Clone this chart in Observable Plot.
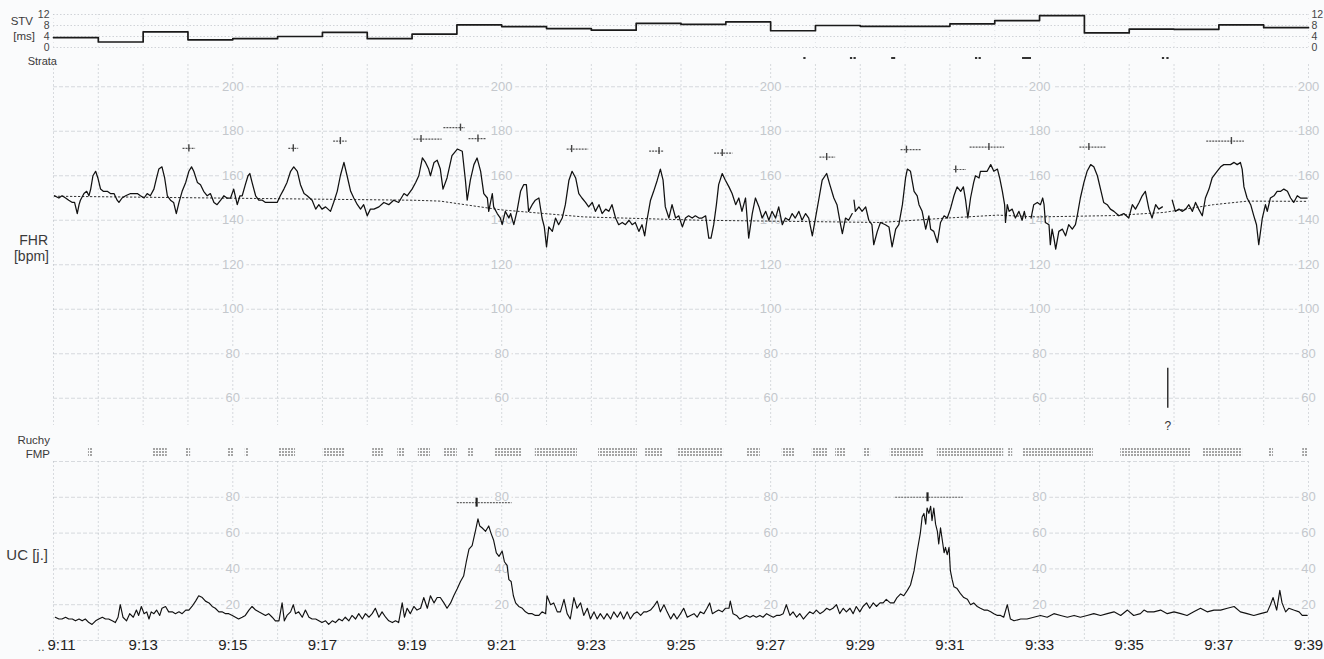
<!DOCTYPE html>
<html><head><meta charset="utf-8">
<script src="https://cdn.jsdelivr.net/npm/d3@7"></script>
<script src="https://cdn.jsdelivr.net/npm/@observablehq/plot@0.6"></script>
<style>
body{margin:0;background:#fafbfc;font-family:"Liberation Sans",Arial,sans-serif;}
#wrap{position:relative;width:1324px;height:659px;overflow:hidden;background:#fafbfc;}
.lbl{position:absolute;color:#3a3a3a;white-space:nowrap;text-align:right;line-height:1;}
</style></head><body><div id="wrap"></div>
<script>
// ---------- DATA ----------
const stvMinute = [0,1,2,3,4,5,6,7,8,9,10,11,12,13,14,15,16,17,18,19,20,21,22,23,24,25,26,27];
const stvValue  = [3.6,2.0,5.7,2.8,3.2,4.0,5.5,3.2,4.9,8.2,7.6,6.9,6.3,8.8,8.4,9.3,6.1,8.0,7.7,7.7,8.6,9.8,11.6,5.3,6.7,6.6,8.2,7.2];
const stvTicks = [0,4,8,12];

const strataStart = [16.74,17.78,17.86,18.70,20.57,20.65,21.62,24.74,24.84];
const strataEnd   = [16.79,17.83,17.91,18.79,20.62,20.70,21.82,24.79,24.89];

const fhrTicks = [60,80,100,120,140,160,180,200];
const ucTicks = [20,40,60,80];
const labelMinutes = [4,10,16,22,28];
const xTickMinutes = [0,2,4,6,8,10,12,14,16,18,20,22,24,26,28];
const xTickLabels = ["9:11","9:13","9:15","9:17","9:19","9:21","9:23","9:25","9:27","9:29","9:31","9:33","9:35","9:37","9:39"];

const fhrTrace = [[0.02,151],[0.12,150],[0.19,151],[0.27,150],[0.34,149],[0.42,148],[0.47,148],[0.53,143],[0.57,147],[0.60,149],[0.68,152],[0.74,153],[0.79,151],[0.83,154],[0.88,160],[0.94,162],[0.99,159],[1.05,154],[1.11,153],[1.20,153],[1.27,152],[1.35,152],[1.42,149],[1.46,148],[1.53,150],[1.61,151],[1.72,152],[1.79,152],[1.87,152],[1.94,151],[2.02,150],[2.09,152],[2.16,151],[2.24,154],[2.30,159],[2.35,163],[2.42,164],[2.48,159],[2.54,151],[2.61,149],[2.68,148],[2.74,143],[2.80,148],[2.87,153],[2.95,157],[3.02,162],[3.08,164],[3.13,162],[3.21,157],[3.28,156],[3.35,153],[3.43,151],[3.50,152],[3.58,148],[3.65,147],[3.73,149],[3.80,151],[3.87,150],[3.95,150],[4.02,154],[4.10,147],[4.16,151],[4.21,151],[4.28,156],[4.34,160],[4.38,161],[4.43,157],[4.51,151],[4.58,149],[4.66,149],[4.73,148],[4.80,148],[4.88,148],[4.99,148],[5.06,151],[5.14,154],[5.21,157],[5.29,162],[5.36,164],[5.44,162],[5.51,156],[5.59,152],[5.66,151],[5.77,149],[5.85,145],[5.92,147],[5.99,145],[6.07,146],[6.18,144],[6.25,148],[6.33,153],[6.40,160],[6.48,166],[6.55,160],[6.63,153],[6.70,150],[6.78,147],[6.85,145],[6.92,147],[7.00,142],[7.07,145],[7.15,145],[7.26,146],[7.37,148],[7.48,147],[7.59,149],[7.70,148],[7.82,152],[7.89,151],[8.00,154],[8.08,157],[8.15,160],[8.23,168],[8.30,166],[8.37,163],[8.41,160],[8.49,166],[8.56,167],[8.63,163],
[8.69,154],[8.78,159],[8.89,169],[9.01,172],[9.12,171],[9.19,158],[9.23,149],[9.30,158],[9.38,165],[9.45,168],[9.53,162],[9.60,152],[9.68,150],[9.71,144],[9.75,148],[9.79,152],[9.82,146],[9.90,143],[9.97,141],[10.01,138],[10.08,144],[10.16,141],[10.20,143],[10.27,138],[10.34,144],[10.42,153],[10.49,156],[10.55,156],[10.60,144],[10.68,147],[10.75,149],[10.83,150],[10.90,141],[10.95,137],[11.00,128],[11.05,137],[11.13,135],[11.20,141],[11.27,138],[11.35,141],[11.42,147],[11.50,158],[11.57,162],[11.65,159],[11.72,152],[11.79,150],[11.87,148],[11.94,146],[12.02,148],[12.09,144],[12.17,147],[12.24,143],[12.32,145],[12.39,144],[12.46,147],[12.54,141],[12.61,138],[12.69,139],[12.76,138],[12.84,140],[12.91,138],[12.98,139],[13.06,135],[13.13,138],[13.19,133],[13.24,140],[13.32,149],[13.39,153],[13.47,158],[13.54,163],[13.60,158],[13.65,146],[13.73,141],[13.80,147],[13.88,141],[13.95,142],[14.03,137],[14.10,141],[14.17,142],[14.25,141],[14.32,142],[14.40,141],[14.47,141],[14.55,142],[14.62,132],[14.67,132],[14.73,138],[14.79,147],[14.84,156],[14.92,161],[14.99,158],[15.07,155],[15.14,152],[15.22,147],[15.29,150],[15.36,144],[15.44,150],[15.51,132],[15.59,143],[15.66,150],[15.74,146],[15.81,141],[15.89,144],[15.96,140],[16.03,144],[16.11,141],[16.18,146],[16.26,138],[16.33,141],[16.41,140],[16.48,143],[16.55,141],[16.63,144],[16.70,140],[16.78,143],[16.85,141],[16.93,133],[17.00,141],[17.08,150],[17.15,158],[17.25,161],[17.32,156],[17.41,150],[17.48,147],[17.56,138],[17.60,134],[17.67,141],[17.74,140],[17.82,143],[17.84,null],[17.86,149],[17.89,144],[17.97,146],[18.04,144],[18.12,146],[18.19,140],[18.26,138],[18.30,129],[18.38,135],
[18.45,139],[18.56,138],[18.64,137],[18.71,128],[18.79,136],[18.86,138],[18.94,147],[19.01,159],[19.05,163],[19.12,162],[19.20,153],[19.27,151],[19.31,147],[19.38,144],[19.46,136],[19.53,142],[19.57,136],[19.64,135],[19.72,130],[19.79,139],[19.87,142],[19.94,141],[20.01,145],[20.09,151],[20.16,155],[20.24,153],[20.30,155],[20.35,149],[20.40,141],[20.46,150],[20.53,157],[20.57,160],[20.65,159],[20.68,162],[20.76,162],[20.83,162],[20.91,165],[20.98,162],[21.06,163],[21.11,159],[21.17,153],[21.22,147],[21.24,139],[21.28,147],[21.32,144],[21.39,145],[21.46,141],[21.54,144],[21.61,140],[21.66,144],[21.69,141],[21.75,null],[21.81,141],[21.87,147],[21.95,148],[22.02,147],[22.07,150],[22.10,147],[22.13,139],[22.21,138],[22.24,129],[22.28,136],[22.32,132],[22.36,127],[22.43,135],[22.51,136],[22.58,133],[22.65,138],[22.73,136],[22.80,138],[22.84,142],[22.91,150],[22.99,157],[23.06,162],[23.14,165],[23.21,164],[23.29,160],[23.36,154],[23.43,148],[23.51,147],[23.58,145],[23.66,144],[23.77,142],[23.88,143],[23.99,141],[24.07,147],[24.14,145],[24.22,148],[24.29,151],[24.36,153],[24.44,145],[24.51,141],[24.59,147],[24.66,145],[24.74,146],[24.85,null],[24.96,149],[25.03,144],[25.11,145],[25.18,144],[25.26,145],[25.33,147],[25.41,144],[25.48,148],[25.55,145],[25.63,142],[25.70,150],[25.78,154],[25.85,159],[25.96,162],[26.04,164],[26.11,165],[26.19,165],[26.26,165],[26.34,166],[26.41,165],[26.48,166],[26.52,163],[26.56,155],[26.63,150],[26.71,147],[26.78,142],[26.84,138],[26.89,129],[26.97,141],[27.04,147],[27.08,144],[27.15,150],[27.23,151],[27.30,153],[27.38,153],[27.45,154],[27.53,153],[27.60,150],[27.67,148],[27.75,151],[27.82,150],[27.90,150],[27.97,150]];

const fhrBaseline = [[0.02,150.8],[8.03,149],[8.63,148.6],[9.97,144.7],[11.83,141.5],[14.44,140],[18.45,139],[19.95,141],[21.06,142.3],[21.95,141.5],[23.65,142.1],[24.77,143.5],[25.88,147],[26.64,148.6],[27.98,148.5]];

const accelT     = [3.02,5.35,6.40,8.20,9.08,9.47,11.56,13.51,14.92,17.25,19.03,20.13,20.87,23.10,26.28];
const accelStart = [2.89,5.25,6.25,8.04,8.71,9.27,11.46,13.30,14.75,17.10,18.91,20.09,20.45,22.90,25.73];
const accelEnd   = [3.17,5.47,6.55,8.67,9.19,9.66,11.94,13.63,15.16,17.45,19.36,20.37,21.22,23.49,26.57];
const accelBpm   = [172.3,172.3,175.6,176.5,181.6,176.7,172.0,171.1,170.2,168.4,171.7,162.8,172.9,172.9,175.6];

const eventT = [24.86];
const eventLow = [55.5];
const eventHigh = [73.5];
const eventLabel = ["?"];

const fmpStart = [0.78,2.23,2.95,3.90,4.28,5.02,6.02,7.12,7.68,8.14,8.70,9.26,9.86,10.75,12.16,13.21,13.92,15.48,16.26,16.93,17.45,18.07,18.67,19.72,21.31,21.62,23.81,25.64,27.11,27.87];
const fmpEnd   = [0.87,2.54,3.06,4.02,4.35,5.40,6.51,7.36,7.85,8.41,9.01,9.37,10.46,11.69,13.03,13.59,14.95,15.77,16.55,17.27,17.67,18.23,19.41,21.20,21.40,23.20,25.37,26.53,27.22,28.00];

const ucTrace = [[0.04,13],[0.12,12],[0.19,12],[0.27,13],[0.34,12],[0.42,12],[0.49,11],[0.57,12],[0.64,11],[0.71,12],[0.79,10],[0.86,9],[0.94,11],[1.01,12],[1.09,13],[1.16,12],[1.23,12],[1.31,11],[1.38,10],[1.44,13],[1.49,20],[1.55,13],[1.63,11],[1.70,15],[1.78,13],[1.85,17],[1.90,14],[1.96,19],[2.02,15],[2.08,16],[2.13,12],[2.18,16],[2.24,15],[2.30,17],[2.37,14],[2.42,18],[2.50,19],[2.57,16],[2.65,16],[2.72,15],[2.80,16],[2.87,15],[2.95,17],[3.02,17],[3.09,19],[3.17,22],[3.24,25],[3.32,24],[3.39,22],[3.47,21],[3.54,19],[3.61,18],[3.69,16],[3.76,16],[3.84,15],[3.91,15],[3.99,14],[4.06,13],[4.13,12],[4.21,13],[4.28,14],[4.36,17],[4.43,19],[4.51,17],[4.58,16],[4.66,15],[4.73,14],[4.80,15],[4.88,13],[4.95,11],[5.03,11],[5.10,21],[5.15,11],[5.21,14],[5.29,16],[5.35,20],[5.40,15],[5.47,16],[5.55,13],[5.62,17],[5.70,13],[5.77,12],[5.85,12],[5.92,11],[5.99,10],[6.07,11],[6.14,9],[6.22,11],[6.29,10],[6.37,12],[6.44,11],[6.51,13],[6.59,11],[6.66,14],[6.74,12],[6.81,15],[6.89,12],[6.96,15],[7.04,13],[7.11,15],[7.18,18],[7.26,13],[7.33,16],[7.41,13],[7.48,11],[7.56,10],[7.63,11],[7.70,10],[7.78,21],[7.83,13],[7.89,18],[7.96,15],[8.04,19],[8.11,17],[8.19,18],[8.26,24],[8.34,18],[8.41,25],[8.49,21],[8.56,24],
[8.63,24],[8.71,21],[8.78,18],[8.86,21],[8.93,25],[9.01,29],[9.08,33],[9.15,36],[9.21,44],[9.27,51],[9.34,53],[9.42,62],[9.47,68],[9.51,64],[9.56,63],[9.64,61],[9.71,64],[9.76,60],[9.82,56],[9.88,49],[9.94,47],[10.01,50],[10.06,44],[10.12,42],[10.16,34],[10.21,33],[10.26,25],[10.31,21],[10.38,19],[10.46,18],[10.53,16],[10.60,15],[10.68,15],[10.75,14],[10.83,14],[10.90,16],[10.98,15],[11.01,25],[11.09,20],[11.16,21],[11.24,16],[11.31,16],[11.39,23],[11.46,15],[11.53,12],[11.61,24],[11.68,18],[11.76,21],[11.83,14],[11.91,18],[11.98,12],[12.06,16],[12.13,12],[12.20,15],[12.28,12],[12.35,15],[12.43,12],[12.50,16],[12.58,13],[12.65,16],[12.72,12],[12.80,16],[12.87,12],[12.95,15],[13.02,16],[13.10,14],[13.17,16],[13.24,16],[13.32,17],[13.39,19],[13.47,22],[13.54,16],[13.62,20],[13.69,16],[13.77,12],[13.84,15],[13.91,12],[13.99,15],[14.06,18],[14.14,13],[14.21,14],[14.29,15],[14.36,13],[14.43,16],[14.51,15],[14.58,18],[14.64,21],[14.70,15],[14.77,16],[14.84,17],[14.92,16],[14.99,18],[15.07,18],[15.10,22],[15.16,15],[15.24,14],[15.31,12],[15.39,13],[15.46,14],[15.54,13],[15.61,14],[15.68,13],[15.76,14],[15.83,13],[15.91,15],[15.98,14],[16.06,13],[16.13,14],[16.20,14],[16.28,15],[16.35,20],[16.43,14],[16.50,16],[16.58,13],[16.65,15],[16.73,12],[16.80,14],[16.87,16],[16.95,15],[17.02,17],[17.10,15],[17.17,16],[17.25,18],[17.32,17],[17.39,18],[17.47,20],[17.54,15],[17.62,18],[17.69,16],[17.77,18],[17.84,15],[17.91,19],[17.99,16],[18.06,19],[18.14,21],[18.21,18],[18.29,21],[18.36,19],[18.44,21],[18.51,21],[18.58,23],[18.67,21],
[18.75,21],[18.82,24],[18.90,26],[18.97,25],[19.05,28],[19.12,31],[19.20,39],[19.27,50],[19.34,60],[19.38,69],[19.42,71],[19.46,65],[19.49,74],[19.53,71],[19.57,75],[19.60,67],[19.64,74],[19.68,65],[19.72,61],[19.75,54],[19.79,63],[19.83,56],[19.87,49],[19.90,52],[19.94,48],[19.98,52],[20.01,39],[20.05,34],[20.09,30],[20.16,29],[20.24,26],[20.31,24],[20.39,23],[20.46,20],[20.53,21],[20.61,19],[20.68,18],[20.76,17],[20.83,17],[20.91,16],[20.98,15],[21.06,14],[21.13,14],[21.20,13],[21.28,20],[21.35,12],[21.43,11],[21.58,12],[21.72,12],[21.87,13],[22.02,14],[22.17,13],[22.32,15],[22.47,14],[22.62,13],[22.77,14],[22.91,13],[23.06,14],[23.21,15],[23.36,14],[23.51,15],[23.66,16],[23.81,14],[23.96,17],[24.10,14],[24.25,15],[24.33,17],[24.40,16],[24.55,16],[24.70,17],[24.85,15],[25.00,16],[25.15,15],[25.29,14],[25.44,16],[25.59,18],[25.74,16],[25.89,17],[26.04,17],[26.19,18],[26.34,19],[26.48,16],[26.63,15],[26.78,14],[26.93,15],[27.08,16],[27.15,20],[27.21,24],[27.29,17],[27.36,28],[27.41,21],[27.49,16],[27.56,18],[27.67,17],[27.79,16],[27.86,14],[27.97,14]];

const ucMarkT     = [9.44,19.50];
const ucMarkStart = [9.01,18.79];
const ucMarkEnd   = [10.23,20.30];
const ucMarkValue = [77,80];

// ---------- LAYOUT ----------
const W = 1324, ML = 53, MR = 16;
const FONT = "'Liberation Sans', Arial, sans-serif";
const BG = "#fafbfc";
const GRID = "#b4b9bf";
const TICKTXT = "#c4c8cd";
const gridMinutes = d3.range(0, 29);
const wrap = document.getElementById("wrap");

function place(el, top) {
  el.style.position = "absolute"; el.style.left = "0px"; el.style.top = top + "px";
  el.style.background = "transparent"; el.style.overflow = "visible"; el.style.maxWidth = "none";
  wrap.appendChild(el); return el;
}
function lbl(text, right, cy, size) {
  const d = document.createElement("div");
  d.className = "lbl"; d.textContent = text;
  d.style.fontSize = size + "px"; d.style.left = "0px"; d.style.width = right + "px";
  d.style.top = (cy - size * 0.5) + "px";
  wrap.appendChild(d);
}
const base = {width: W, marginLeft: ML, marginRight: MR, style: {fontFamily: FONT, background: "transparent"}};

// STV panel
const stvRows = stvMinute.map((t, i) => ({t, v: stvValue[i]}));
stvRows.push({t: 28, v: stvValue[stvValue.length - 1]});
place(Plot.plot({...base, height: 52, marginTop: 14, marginBottom: 5,
  x: {domain: [0, 28], axis: null}, y: {domain: [0, 12], axis: null},
  marks: [
    Plot.gridX(gridMinutes, {stroke: GRID, strokeOpacity: 0.35, strokeDasharray: "1,3"}),
    Plot.gridY(stvTicks, {stroke: GRID, strokeOpacity: 0.6, strokeDasharray: "1.5,2"}),
    Plot.axisY(stvTicks, {anchor: "left", tickSize: 0, tickPadding: 4, fontSize: 10.5, color: "#444", label: null}),
    Plot.axisY(stvTicks, {anchor: "right", tickSize: 0, tickPadding: 3, fontSize: 10.5, color: "#444", label: null}),
    Plot.line(stvRows, {x: "t", y: "v", curve: "step-after", stroke: "#1a1a1a", strokeWidth: 1.7})
  ]}), 0);

// Strata row
const strataRows = strataStart.map((a, i) => ({a, b: strataEnd[i]}));
place(Plot.plot({...base, height: 2, marginTop: 0, marginBottom: 0,
  x: {domain: [0, 28], axis: null},
  marks: [Plot.rect(strataRows, {x1: "a", x2: "b", fill: "#333"})]
}), 57);

// FHR panel
const fhrLabelRows = d3.cross(labelMinutes, fhrTicks).map(([t, v]) => ({t, v}));
const accelRows = accelT.map((t, i) => ({t, a: accelStart[i], b: accelEnd[i], v: accelBpm[i]}));
const eventRows = eventT.map((t, i) => ({t, lo: eventLow[i], hi: eventHigh[i], label: eventLabel[i]}));
place(Plot.plot({...base, height: 372, marginTop: 0, marginBottom: 16,
  x: {domain: [0, 28], axis: null}, y: {domain: [50, 210], axis: null},
  marks: [
    Plot.gridX(gridMinutes, {stroke: GRID, strokeOpacity: 0.5, strokeDasharray: "2,2", insetBottom: -5}),
    Plot.gridY(fhrTicks, {stroke: GRID, strokeOpacity: 0.5, strokeDasharray: "4,2"}),
    Plot.text(fhrLabelRows, {x: "t", y: "v", text: d => String(d.v), fill: TICKTXT, stroke: BG, strokeWidth: 6, paintOrder: "stroke", fontSize: 13}),
    Plot.line(fhrBaseline, {x: d => d[0], y: d => d[1], stroke: "#333", strokeWidth: 1, strokeDasharray: "1.5,2.5"}),
    Plot.line(fhrTrace, {x: d => d[0], y: d => d[1], stroke: "#111", strokeWidth: 1.25}),
    Plot.ruleY(accelRows, {x1: "a", x2: "b", y: "v", stroke: "#555", strokeWidth: 1.2, strokeDasharray: "2,1"}),
    Plot.ruleX(accelRows, {x: "t", y1: d => d.v - 1.6, y2: d => d.v + 1.6, stroke: "#444", strokeWidth: 1.4}),
    Plot.ruleX(eventRows, {x: "t", y1: "lo", y2: "hi", stroke: "#333", strokeWidth: 1.5}),
    Plot.text(eventRows, {x: "t", text: "label", frameAnchor: "bottom", dy: 9, fontSize: 12, fill: "#333"})
  ]}), 64);

// FMP row
const fmpRows = fmpStart.map((a, i) => ({a, b: fmpEnd[i]}));
const fmpSvg = place(Plot.plot({...base, height: 9, marginTop: 0, marginBottom: 0,
  x: {domain: [0, 28], axis: null},
  marks: [Plot.rect(fmpRows, {x1: "a", x2: "b", fill: "#9a9a9a"})]
}), 448);
const defs = document.createElementNS("http://www.w3.org/2000/svg", "defs");
defs.innerHTML = '<pattern id="fmpPat" width="3" height="3" patternUnits="userSpaceOnUse"><rect width="2" height="2" fill="#a4a4a4"/></pattern>';
fmpSvg.insertBefore(defs, fmpSvg.firstChild);
fmpSvg.querySelectorAll("rect").forEach(r => { if (!r.closest("pattern")) r.setAttribute("fill", "url(#fmpPat)"); });
fmpSvg.querySelectorAll("g").forEach(g => { if (g.getAttribute("fill") === "#9a9a9a") g.setAttribute("fill", "url(#fmpPat)"); });

// UC panel + time axis
const ucLabelRows = d3.cross(labelMinutes, ucTicks).map(([t, v]) => ({t, v}));
const ucMarkRows = ucMarkT.map((t, i) => ({t, a: ucMarkStart[i], b: ucMarkEnd[i], v: ucMarkValue[i]}));
const xRows = xTickMinutes.map((t, i) => ({t, label: xTickLabels[i]}));
place(Plot.plot({...base, height: 204, marginTop: 6, marginBottom: 19,
  x: {domain: [0, 28], axis: null}, y: {domain: [0, 100], axis: null},
  marks: [
    Plot.gridX(gridMinutes, {stroke: GRID, strokeOpacity: 0.5, strokeDasharray: "2,2"}),
    Plot.gridY([0, ...ucTicks, 100], {stroke: GRID, strokeOpacity: 0.5, strokeDasharray: "4,2"}),
    Plot.text(ucLabelRows, {x: "t", y: "v", text: d => String(d.v), fill: TICKTXT, stroke: BG, strokeWidth: 6, paintOrder: "stroke", fontSize: 13}),
    Plot.line(ucTrace, {x: d => d[0], y: d => d[1], stroke: "#111", strokeWidth: 1.15}),
    Plot.ruleY(ucMarkRows, {x1: "a", x2: "b", y: "v", stroke: "#666", strokeWidth: 1.1, strokeDasharray: "2,1"}),
    Plot.ruleX(ucMarkRows, {x: "t", y1: d => d.v - 2.5, y2: d => d.v + 2.5, stroke: "#222", strokeWidth: 2.2}),
    Plot.text(xRows.slice(1), {x: "t", text: "label", frameAnchor: "bottom", dy: 9, fontSize: 15, fill: "#222"}),
    Plot.text(xRows.slice(0, 1), {x: "t", text: "label", frameAnchor: "bottom", dy: 9, fontSize: 15, fill: "#222", textAnchor: "start", dx: -6}),
    Plot.text(xRows.slice(0, 1), {x: "t", text: () => "..", frameAnchor: "bottom", dy: 10, fontSize: 12, fill: "#444", textAnchor: "end", dx: -9})
  ]}), 455);

// Left labels
lbl("STV", 33, 22, 11.5);
lbl("[ms]", 35, 37, 11.5);
lbl("Strata", 57, 61, 11);
lbl("FHR", 48, 240, 14);
lbl("[bpm]", 49, 256, 14);
lbl("Ruchy", 50, 441, 11.5);
lbl("FMP", 50, 455, 11.5);
lbl("UC [j.]", 48, 554, 15);
</script></body></html>
